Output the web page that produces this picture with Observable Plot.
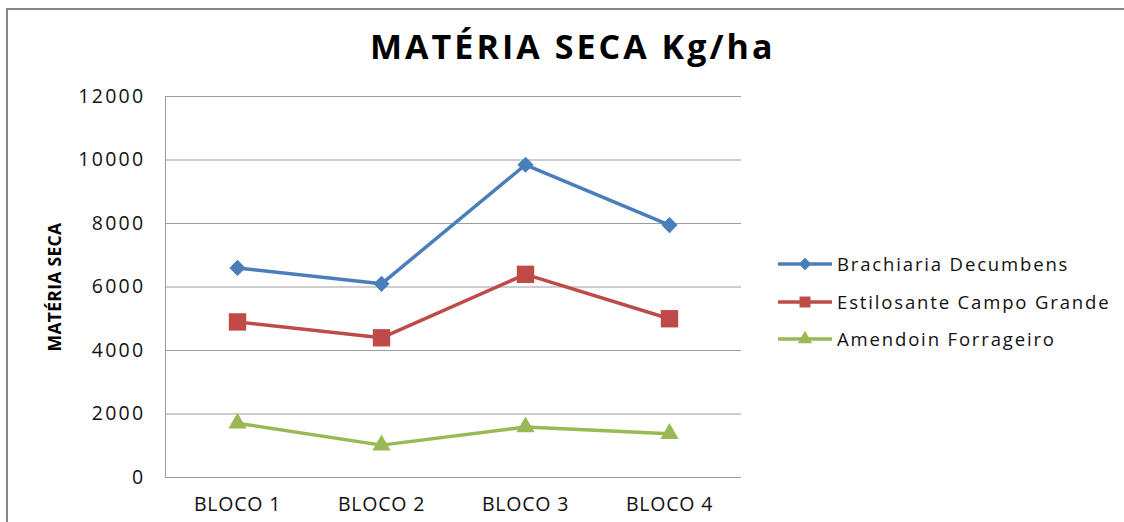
<!DOCTYPE html>
<html>
<head>
<meta charset="utf-8">
<script src="https://cdn.jsdelivr.net/npm/d3@7"></script>
<script src="https://cdn.jsdelivr.net/npm/@observablehq/plot@0.6"></script>
<style>
  html, body { margin: 0; padding: 0; background: #fff; }
  #wrap { position: relative; width: 1124px; height: 522px; overflow: hidden; background: #fff; font-family: "Open Sans", sans-serif; }
  #border { position: absolute; left: 6px; top: 8px; width: 2000px; height: 2000px; border: 2px solid #878787; box-sizing: border-box; }
  #chart { position: absolute; left: 0; top: 0; }
  #title { position: absolute; left: 370px; top: 29px; font-weight: 700; font-size: 34px; line-height: 1; letter-spacing: 3.05px; color: #000; white-space: nowrap; }
  #ylabel { position: absolute; left: 55px; top: 287px; transform: translate(-50%, -50%) rotate(-90deg); font-weight: 700; font-size: 17.5px; letter-spacing: 0.3px; line-height: 1; color: #000; white-space: nowrap; }
  .leg { position: absolute; left: 778px; height: 22px; display: flex; align-items: center; white-space: nowrap; }
  .leg span { margin-left: 5px; font-size: 18.5px; letter-spacing: 1.85px; color: #111; line-height: 22px; }
  g[aria-label="y-axis tick label"] text { letter-spacing: 2.3px; }
  g[aria-label="x-axis tick label"] text { letter-spacing: 0.8px; }
</style>
</head>
<body>
<div id="wrap">
  <div id="border"></div>
  <div id="chart"></div>
  <div id="title"></div>
  <div id="ylabel"></div>
</div>
<script>
const titleText = "MATÉRIA SECA Kg/ha";
const yLabelText = "MATÉRIA SECA";
const blocks = ["BLOCO 1", "BLOCO 2", "BLOCO 3", "BLOCO 4"];
const seriesNames = ["Brachiaria Decumbens", "Estilosante Campo Grande", "Amendoin Forrageiro"];
const brachiaria = [6600, 6100, 9850, 7950];
const estilosante = [4900, 4400, 6400, 5000];
const amendoin = [1710, 1020, 1590, 1380];
const yTicks = [0, 2000, 4000, 6000, 8000, 10000, 12000];

const seriesValues = [brachiaria, estilosante, amendoin];
const colors = ["#4A7EBB", "#BE4B48", "#98B954"];
const symbols = ["diamond2", "square", "triangle"];
const radii = [7.3, 9.8, 6.8];

const marks = [
  Plot.gridY(yTicks, { stroke: "#9c9c9c", strokeOpacity: 1, strokeWidth: 1 }),
  Plot.frame({ anchor: "left", stroke: "#9c9c9c", strokeWidth: 1 }),
  Plot.axisY(yTicks, { tickSize: 0, tickPadding: 20, label: null, fill: "#111", fontSize: 19.5, tickFormat: d => String(d) }),
  Plot.axisX({ tickSize: 0, tickPadding: 20, label: null, fill: "#111", fontSize: 19.5 })
];
seriesValues.forEach((vals, i) => {
  const rows = blocks.map((b, j) => ({ bloco: b, valor: vals[j] }));
  marks.push(Plot.line(rows, { x: "bloco", y: "valor", stroke: colors[i], strokeWidth: 3.5 }));
  marks.push(Plot.dot(rows, { x: "bloco", y: "valor", symbol: symbols[i], r: radii[i], fill: colors[i], stroke: "none" }));
});

const chart = Plot.plot({
  width: 1124,
  height: 522,
  marginTop: 96,
  marginBottom: 45,
  marginLeft: 165,
  marginRight: 383,
  style: { fontFamily: "Open Sans", background: "transparent" },
  x: { type: "point", domain: blocks, padding: 0.5 },
  y: { domain: [0, 12000] },
  marks
});
document.getElementById("chart").appendChild(chart);
document.getElementById("title").textContent = titleText;
document.getElementById("ylabel").textContent = yLabelText;

// legend
const legendCenters = [264, 302, 339];
const wrap = document.getElementById("wrap");
seriesNames.forEach((name, i) => {
  const row = document.createElement("div");
  row.className = "leg";
  row.style.top = (legendCenters[i] - 11) + "px";
  const svg = d3.create("svg").attr("width", 54).attr("height", 22);
  svg.append("line").attr("x1", 0).attr("x2", 54).attr("y1", 11).attr("y2", 11)
    .attr("stroke", colors[i]).attr("stroke-width", 3.5);
  const sym = [d3.symbolDiamond2, d3.symbolSquare, d3.symbolTriangle][i];
  const size = [100, 120, 90][i];
  svg.append("path").attr("d", d3.symbol(sym, size)()).attr("transform", "translate(27,11)")
    .attr("fill", colors[i]);
  row.appendChild(svg.node());
  const span = document.createElement("span");
  span.textContent = name;
  row.appendChild(span);
  wrap.appendChild(row);
});
</script>
</body>
</html>
